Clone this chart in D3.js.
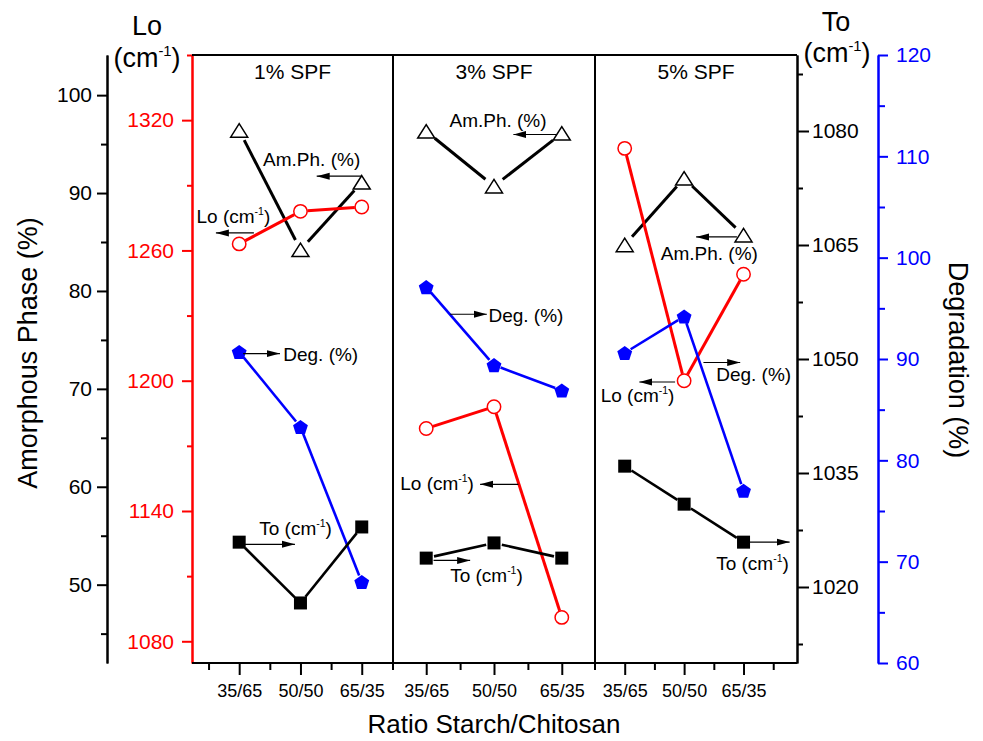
<!DOCTYPE html>
<html>
<head>
<meta charset="utf-8">
<script src="https://cdn.jsdelivr.net/npm/d3@7"></script>
<style>
  body { margin: 0; background: #fff; }
  svg { font-family: "Liberation Sans", Arial, sans-serif; }
</style>
</head>
<body>
<svg id="chart"></svg>
<script>
// ---- data (one row per panel: 1%, 3%, 5% SPF; one value per ratio) ----
const panelTitles = ["1% SPF", "3% SPF", "5% SPF"];
const ratios = ["35/65", "50/50", "65/35"];

const amorphousPhase = [
  [96.4, 84.2, 91.1],
  [96.3, 90.7, 96.1],
  [84.7, 91.5, 85.7],
];
const loValues = [
  [1263, 1278, 1280],
  [1178, 1188, 1091],
  [1307, 1200, 1249],
];
const degradation = [
  [90.7, 83.3, 68.0],
  [97.1, 89.4, 86.9],
  [90.6, 94.2, 77.0],
];
const toValues = [
  [1025.9, 1017.9, 1027.9],
  [1023.8, 1025.8, 1023.8],
  [1035.9, 1030.9, 1025.9],
];

const amTicks = [50, 60, 70, 80, 90, 100];
const amMinor = [45, 55, 65, 75, 85, 95];
const loTicks = [1080, 1140, 1200, 1260, 1320];
const loMinor = [1110, 1170, 1230, 1290, 1350];
const toTicks = [1020, 1035, 1050, 1065, 1080];
const toMinor = [1012.5, 1027.5, 1042.5, 1057.5, 1072.5, 1087.5];
const degTicks = [60, 70, 80, 90, 100, 110, 120];
const degMinor = [65, 75, 85, 95, 105, 115];

// arrow labels: [panel, text, text x, text y, arrow from x, arrow to x, arrow y]
// x in ratio-index units of the panel, y in amorphous phase units
const arrowNotes = [
  [0, "Am.Ph. (%)", 0.39, 92.74, 2.0, 1.265, 91.72],
  [0, "Lo (cm-1)", -0.696, 86.95, 0.24, -0.38, 85.93],
  [0, "Deg. (%)", 0.719, 72.85, 0.065, 0.665, 73.6],
  [0, "To (cm-1)", 0.327, 55.04, 0.093, 0.91, 54.12],
  [1, "Am.Ph. (%)", 0.343, 96.7, 1.925, 1.286, 95.98],
  [1, "Deg. (%)", 0.918, 76.83, 0.353, 0.894, 77.62],
  [1, "Lo (cm-1)", -0.383, 59.64, 1.36, 0.795, 60.25],
  [1, "To (cm-1)", 0.353, 50.27, 0.108, 0.648, 52.48],
  [2, "Am.Ph. (%)", 0.607, 83.14, 1.889, 1.202, 85.52],
  [2, "Deg. (%)", 1.54, 70.81, 1.325, 1.944, 72.69],
  [2, "Lo (cm-1)", -0.405, 68.66, 0.848, 0.246, 70.7],
  [2, "To (cm-1)", 1.54, 51.46, 2.057, 2.776, 54.35],
];

// ---- layout ----
const config = {
  width: 983,
  height: 741,
  margin: { top: 55, right: 186, bottom: 78, left: 192 },
  panelEdges: [0, 201, 403, 605],
  panelDomains: [[-0.77, 2.51], [-0.49, 2.49], [-0.5, 2.9]],
  amAxisX: 107,
  degAxisX: 878,
};
const plotLeft = config.margin.left;
const plotTop = config.margin.top;
const plotRight = config.width - config.margin.right;
const plotBottom = config.height - config.margin.bottom;

const svg = d3.select("#chart")
  .attr("width", config.width)
  .attr("height", config.height);

// scales
const amScale = d3.scaleLinear().domain([42, 104.1]).range([plotBottom, plotTop]);
const loScale = d3.scaleLinear().domain([1070, 1350]).range([plotBottom, plotTop]);
const toScale = d3.scaleLinear().domain([1010, 1090]).range([plotBottom, plotTop]);
const degScale = d3.scaleLinear().domain([60, 120]).range([plotBottom, plotTop]);

const xScales = config.panelDomains.map((dom, p) =>
  d3.scaleLinear()
    .domain(dom)
    .range([plotLeft + config.panelEdges[p], plotLeft + config.panelEdges[p + 1]])
);

// helper to style an axis group
function styleAxis(g, color, fontSize) {
  g.select(".domain").attr("stroke", color).attr("stroke-width", 2);
  g.selectAll(".tick line").attr("stroke", color).attr("stroke-width", 2);
  g.selectAll(".tick text")
    .attr("fill", color)
    .style("font-size", fontSize + "px")
    .style("font-family", "'Liberation Sans', Arial, sans-serif");
}

function drawYAxis(axisFn, scale, ticks, minor, x, color, size, minorSize, pad) {
  const gMinor = svg.append("g")
    .attr("transform", `translate(${x},0)`)
    .call(axisFn(scale).tickValues(minor).tickSize(minorSize).tickSizeOuter(0).tickFormat(""));
  styleAxis(gMinor, color, 21);
  const g = svg.append("g")
    .attr("transform", `translate(${x},0)`)
    .call(axisFn(scale).tickValues(ticks).tickSize(size).tickSizeOuter(0)
      .tickPadding(pad).tickFormat(d3.format("d")));
  styleAxis(g, color, 21);
}

drawYAxis(d3.axisLeft, amScale, amTicks, amMinor, config.amAxisX, "#000", 10, 6, 5);
drawYAxis(d3.axisLeft, loScale, loTicks, loMinor, plotLeft, "#ff0000", 10, 5, 8);
drawYAxis(d3.axisRight, toScale, toTicks, toMinor, plotRight, "#000", 12, 6, 3);
drawYAxis(d3.axisRight, degScale, degTicks, degMinor, config.degAxisX, "#0000ff", 10, 7, 8);

// bottom axes, one per panel
xScales.forEach((xs, p) => {
  const minor = d3.range(-0.5, 3, 1).filter((v) => {
    const px = xs(v);
    return px > xs.range()[0] + 2 && px < xs.range()[1] - 2;
  });
  const gm = svg.append("g")
    .attr("transform", `translate(0,${plotBottom})`)
    .call(d3.axisBottom(xs).tickValues(minor).tickSize(7).tickSizeOuter(0).tickFormat(""));
  styleAxis(gm, "#000", 18);
  gm.select(".domain").remove();
  const g = svg.append("g")
    .attr("transform", `translate(0,${plotBottom})`)
    .call(d3.axisBottom(xs).tickValues([0, 1, 2]).tickSize(12).tickPadding(9)
      .tickFormat((i) => ratios[i]));
  styleAxis(g, "#000", 18);
  g.select(".domain").remove();
});

// frame: top, bottom, dividers
svg.append("line")
  .attr("x1", plotLeft).attr("x2", plotRight).attr("y1", plotTop).attr("y2", plotTop)
  .attr("stroke", "#000").attr("stroke-width", 2);
svg.append("line")
  .attr("x1", plotLeft).attr("x2", plotRight).attr("y1", plotBottom).attr("y2", plotBottom)
  .attr("stroke", "#000").attr("stroke-width", 2);
config.panelEdges.slice(1, 3).forEach((e) => {
  svg.append("line")
    .attr("x1", plotLeft + e).attr("x2", plotLeft + e)
    .attr("y1", plotTop).attr("y2", plotBottom + 7)
    .attr("stroke", "#000").attr("stroke-width", 2);
});

// panel titles
panelTitles.forEach((t, p) => {
  svg.append("text")
    .attr("x", (xScales[p].range()[0] + xScales[p].range()[1]) / 2)
    .attr("y", 79)
    .attr("text-anchor", "middle")
    .style("font-size", "21px")
    .text(t);
});

// ---- series ----
const trianglePath = "M0,-6.75L8.5,6.75L-8.5,6.75Z";
const pentagonPath = d3.line()(d3.range(5).map((k) => {
  const a = -Math.PI / 2 + (k * 2 * Math.PI) / 5;
  return [7.8 * Math.cos(a), 7.8 * Math.sin(a) + 0.8];
})) + "Z";

const series = [
  { values: amorphousPhase, scale: amScale, color: "#000", marker: "triangle", gap: 11, lw: 3 },
  { values: loValues, scale: loScale, color: "#ff0000", marker: "circle", gap: 7, lw: 3 },
  { values: degradation, scale: degScale, color: "#0000ff", marker: "pentagon", gap: 7, lw: 2.6 },
  { values: toValues, scale: toScale, color: "#000", marker: "square", gap: 8, lw: 2.6 },
];

series.forEach((s) => {
  s.values.forEach((row, p) => {
    const pts = row.map((v, i) => [xScales[p](i), s.scale(v)]);
    const segs = d3.pairs(pts).map(([a, b]) => {
      const dx = b[0] - a[0], dy = b[1] - a[1];
      const len = Math.hypot(dx, dy);
      const ux = dx / len, uy = dy / len;
      return [a[0] + ux * s.gap, a[1] + uy * s.gap, b[0] - ux * s.gap, b[1] - uy * s.gap];
    });
    svg.append("g").selectAll("line")
      .data(segs)
      .join("line")
      .attr("x1", (d) => d[0]).attr("y1", (d) => d[1])
      .attr("x2", (d) => d[2]).attr("y2", (d) => d[3])
      .attr("stroke", s.color)
      .attr("stroke-width", s.lw);

    const mg = svg.append("g");
    pts.forEach(([x, y]) => {
      if (s.marker === "circle") {
        mg.append("circle").attr("cx", x).attr("cy", y).attr("r", 6.7)
          .attr("fill", "#fff").attr("stroke", s.color).attr("stroke-width", 1.5);
      } else if (s.marker === "square") {
        mg.append("rect").attr("x", x - 6.5).attr("y", y - 6.5)
          .attr("width", 13).attr("height", 13).attr("fill", s.color);
      } else if (s.marker === "triangle") {
        mg.append("path").attr("d", trianglePath).attr("transform", `translate(${x},${y})`)
          .attr("fill", "#fff").attr("stroke", s.color).attr("stroke-width", 1.5);
      } else {
        mg.append("path").attr("d", pentagonPath).attr("transform", `translate(${x},${y})`)
          .attr("fill", s.color);
      }
    });
  });
});

// ---- arrow labels ----
svg.append("defs").append("marker")
  .attr("id", "arrowhead")
  .attr("markerUnits", "userSpaceOnUse")
  .attr("markerWidth", 14).attr("markerHeight", 8)
  .attr("refX", 13).attr("refY", 4)
  .attr("orient", "auto")
  .append("path").attr("d", "M0,0.5L13,4L0,7.5Z").attr("fill", "#000");

function addLabel(sel, text, size) {
  const parts = text.split("-1");
  sel.append("tspan").text(parts[0]);
  if (parts.length > 1) {
    sel.append("tspan").attr("dy", -size * 0.42).style("font-size", size * 0.55 + "px").text("-1");
    sel.append("tspan").attr("dy", size * 0.42).text(parts[1]);
  }
}

arrowNotes.forEach(([p, label, tx, ty, x1, x2, ay]) => {
  const xs = xScales[p];
  svg.append("line")
    .attr("x1", xs(x1)).attr("x2", xs(x2))
    .attr("y1", amScale(ay)).attr("y2", amScale(ay))
    .attr("stroke", "#000").attr("stroke-width", 1.2)
    .attr("marker-end", "url(#arrowhead)");
  const t = svg.append("text")
    .attr("x", xs(tx)).attr("y", amScale(ty))
    .style("font-size", "19px");
  addLabel(t, label, 19);
});

// ---- axis titles ----
svg.append("text").attr("x", 147).attr("y", 35).attr("text-anchor", "middle")
  .style("font-size", "27px").text("Lo");
const lo2 = svg.append("text").attr("x", 147).attr("y", 67).attr("text-anchor", "middle")
  .style("font-size", "27px");
addLabel(lo2, "(cm-1)", 27);
svg.append("text").attr("x", 836).attr("y", 31).attr("text-anchor", "middle")
  .style("font-size", "27px").text("To");
const to2 = svg.append("text").attr("x", 837).attr("y", 62).attr("text-anchor", "middle")
  .style("font-size", "27px");
addLabel(to2, "(cm-1)", 27);

svg.append("text")
  .attr("transform", "translate(37,353) rotate(-90)")
  .attr("text-anchor", "middle")
  .style("font-size", "27px")
  .text("Amorphous Phase (%)");

svg.append("text")
  .attr("transform", "translate(949,360) rotate(90)")
  .attr("text-anchor", "middle")
  .style("font-size", "27px")
  .text("Degradation (%)");

svg.append("text")
  .attr("x", 494).attr("y", 733)
  .attr("text-anchor", "middle")
  .style("font-size", "26px")
  .text("Ratio Starch/Chitosan");
</script>
</body>
</html>
